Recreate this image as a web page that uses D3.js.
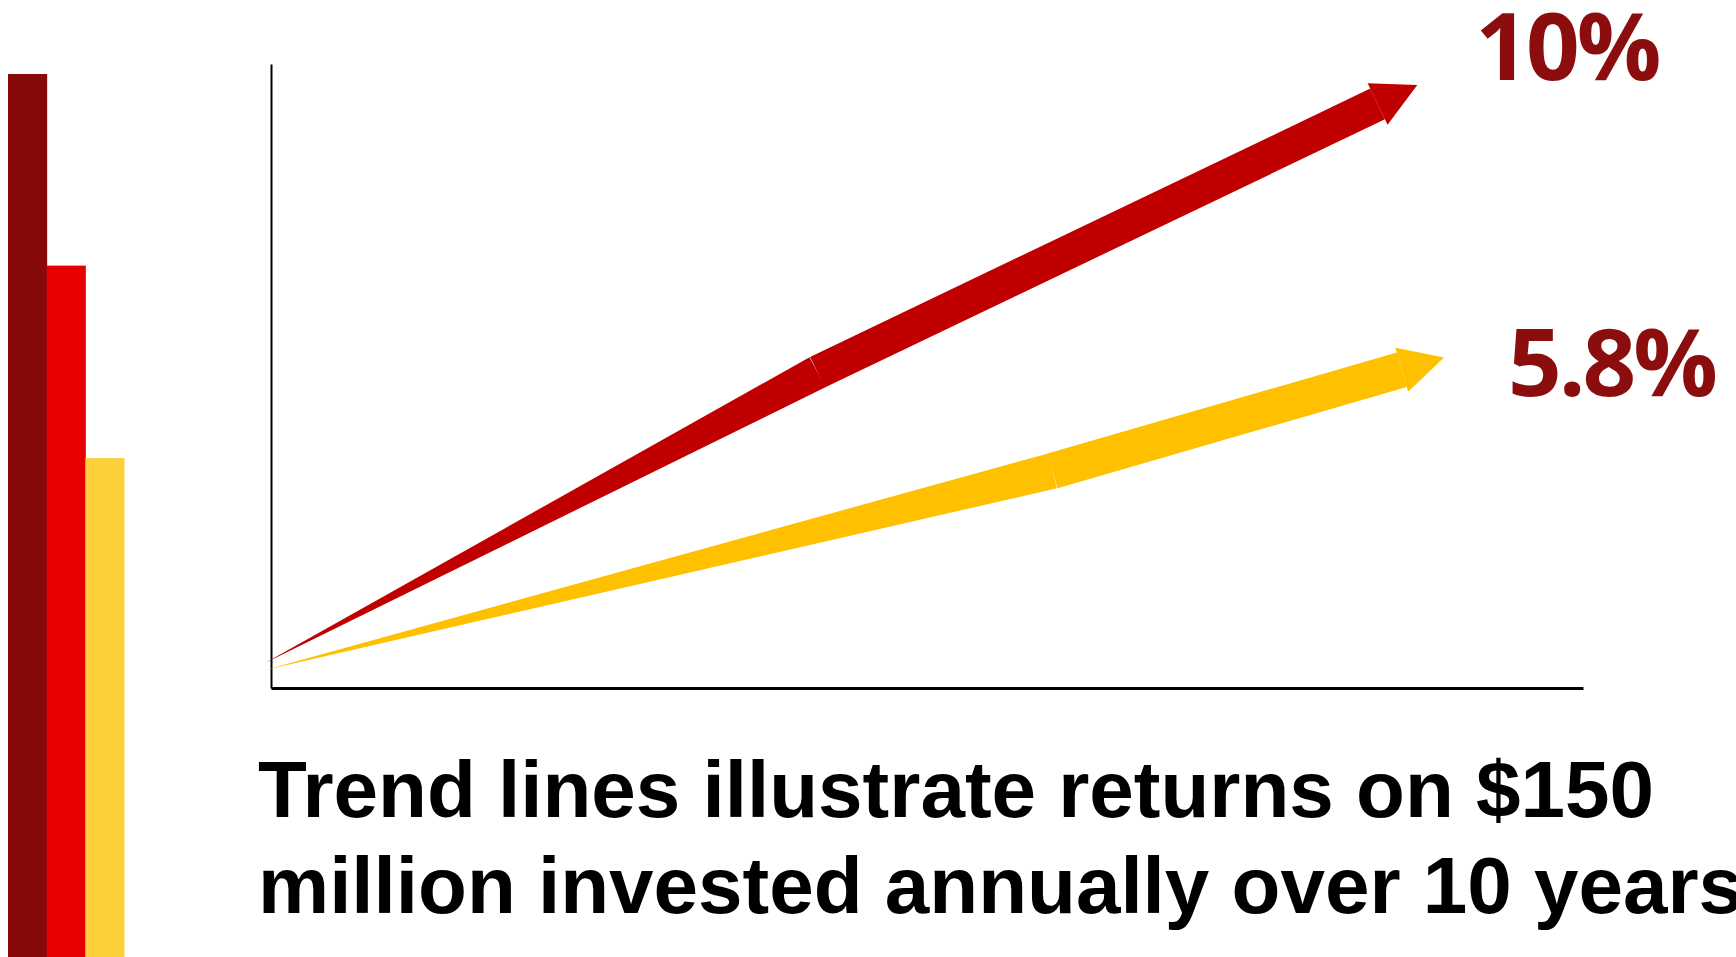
<!DOCTYPE html>
<html>
<head>
<meta charset="utf-8">
<script src="https://cdn.jsdelivr.net/npm/d3@7"></script>
<style>
  html, body { margin: 0; padding: 0; background: #fff; overflow: hidden; }
  svg { display: block; }
</style>
</head>
<body>
<div id="chart"></div>
<script>
// values
var rateLabels = ["10%", "5.8%"];

var yearsHigh = [0, 5.03, 10.13];
var valuesHigh = [4.0, 50.6, 93.6];

var yearsLow = [0, 7.17, 10.35];
var valuesLow = [2.9, 34.8, 51.0];

// decorative bars down the left edge
var barValues = [100, 78.3, 56.5];

var captionLines = [
    "Trend lines illustrate returns on $150",
    "million invested annually over 10 years"
];

var svgWidth = 1736;
var svgHeight = 957;

var svg = d3.select("#chart")
            .append("svg")
            .attr("width", svgWidth)
            .attr("height", svgHeight);

// scales
var xScale = d3.scaleLinear().domain([0, 12]).range([265, 1583]);
var yScale = d3.scaleLinear().domain([0, 100]).range([688, 64]);

var barX = d3.scaleBand().domain(d3.range(barValues.length)).range([8, 124]).padding(0);
var barY = d3.scaleLinear().domain([0, 100]).range([957, 74]);
var barColors = ["#870a0a", "#e80000", "#fdd03a"];

// left bars
svg.selectAll(".deco")
   .data(barValues)
   .enter()
   .append("rect")
   .attr("class", "deco")
   .attr("x", (d, i) => barX(i))
   .attr("width", barX.bandwidth() + 0.5)
   .attr("y", d => barY(d))
   .attr("height", d => barY(0) - barY(d))
   .attr("fill", (d, i) => barColors[i]);

// axes: plain lines, no ticks
var axisLeftX = xScale(0) + 6;
svg.append("g")
   .attr("transform", `translate(${axisLeftX}, 0)`)
   .call(d3.axisLeft(yScale).tickValues([]).tickSizeOuter(0))
   .select(".domain")
   .attr("stroke", "#000")
   .attr("stroke-width", 2);

var xAxisScale = xScale.copy().range([axisLeftX, xScale.range()[1]]);
svg.append("g")
   .attr("transform", `translate(0, ${yScale(0)})`)
   .call(d3.axisBottom(xAxisScale).tickValues([]).tickSizeOuter(0))
   .select(".domain")
   .attr("stroke", "#000")
   .attr("stroke-width", 3);

// trend arrows: tapered wedge to the bend, even shaft after, head at the end
var series = [
    { label: rateLabels[0], years: yearsHigh, values: valuesHigh, color: "#c00000", width: 34, labelDx: 58, labelDy: -5 },
    { label: rateLabels[1], years: yearsLow, values: valuesLow, color: "#ffc000", width: 36, labelDx: 64, labelDy: 38 }
];

var headHalf = 23;
var headLen = 44;
var polyLine = d3.line().curve(d3.curveLinearClosed);

function unitDir(a, b) {
    var dx = b[0] - a[0], dy = b[1] - a[1];
    var len = Math.sqrt(dx * dx + dy * dy);
    return [dx / len, dy / len];
}

function arrowPolys(pts, w) {
    var h = w / 2;
    var p0 = pts[0], p1 = pts[1], p2 = pts[2];
    var d1 = unitDir(p0, p1), n1 = [d1[1], -d1[0]];
    var d2 = unitDir(p1, p2), n2 = [d2[1], -d2[0]];
    var wedge = [p0,
                 [p1[0] + n1[0] * h, p1[1] + n1[1] * h],
                 [p1[0] - n1[0] * h, p1[1] - n1[1] * h]];
    var shaft = [[p1[0] + n2[0] * h, p1[1] + n2[1] * h],
                 [p2[0] + n2[0] * h, p2[1] + n2[1] * h],
                 [p2[0] - n2[0] * h, p2[1] - n2[1] * h],
                 [p1[0] - n2[0] * h, p1[1] - n2[1] * h]];
    var tip = [p2[0] + d2[0] * headLen, p2[1] + d2[1] * headLen];
    var head = [[p2[0] + n2[0] * headHalf, p2[1] + n2[1] * headHalf],
                tip,
                [p2[0] - n2[0] * headHalf, p2[1] - n2[1] * headHalf]];
    return { polys: [wedge, shaft, head], tip: tip };
}

series.forEach(function(s) {
    var pts = s.years.map((yr, i) => [xScale(yr), yScale(s.values[i])]);
    var shape = arrowPolys(pts, s.width);

    svg.append("g")
       .selectAll("path")
       .data(shape.polys)
       .enter()
       .append("path")
       .attr("d", d => polyLine(d))
       .attr("fill", s.color);

    svg.append("text")
       .attr("x", shape.tip[0] + s.labelDx)
       .attr("y", shape.tip[1] + s.labelDy)
       .attr("font-family", "'Open Sans', sans-serif")
       .attr("font-weight", "bold")
       .attr("font-size", "94px")
       .attr("letter-spacing", "-3px")
       .attr("fill", "#8b0d0d")
       .text(s.label);
});

// caption
svg.selectAll(".caption")
   .data(captionLines)
   .enter()
   .append("text")
   .attr("class", "caption")
   .attr("x", 258)
   .attr("y", (d, i) => 817 + i * 96)
   .attr("font-family", "'Liberation Sans', Arial, sans-serif")
   .attr("font-weight", "bold")
   .attr("font-size", "80px")
   .attr("fill", "#000")
   .text(d => d);
</script>
</body>
</html>
